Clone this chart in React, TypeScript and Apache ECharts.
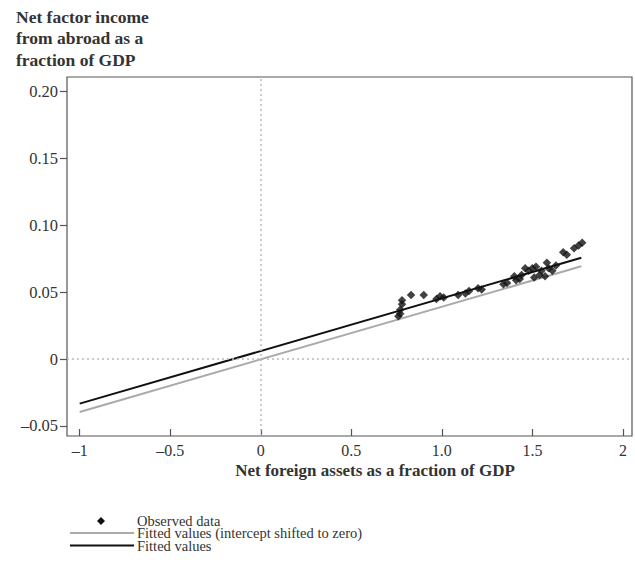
import React, { useEffect, useRef } from "react";
import * as echarts from "echarts";

const observedX = [0.76, 0.77, 0.77, 0.78, 0.78, 0.83, 0.90, 0.97, 0.99, 1.01, 1.09, 1.13, 1.15, 1.20, 1.22, 1.34, 1.36, 1.40, 1.41, 1.43, 1.44, 1.46, 1.48, 1.50, 1.51, 1.52, 1.54, 1.55, 1.57, 1.58, 1.59, 1.61, 1.63, 1.67, 1.69, 1.73, 1.755, 1.775];
const observedY = [0.032, 0.034, 0.037, 0.041, 0.044, 0.048, 0.048, 0.045, 0.047, 0.046, 0.048, 0.049, 0.051, 0.053, 0.052, 0.056, 0.057, 0.062, 0.059, 0.060, 0.063, 0.068, 0.066, 0.068, 0.061, 0.069, 0.063, 0.066, 0.062, 0.072, 0.068, 0.066, 0.070, 0.080, 0.078, 0.083, 0.085, 0.087];

const fitX = [-1, 1.77];
const fitY = [-0.0333, 0.0758];
const shiftedY = [-0.0395, 0.0694];

const xTicks = [-1, -0.5, 0, 0.5, 1, 1.5, 2];
const yTicks = [-0.05, 0, 0.05, 0.1, 0.15, 0.2];

const FONT = "'Liberation Serif', 'DejaVu Serif', serif";

export default function App() {
  const ref = useRef<HTMLDivElement>(null);
  useEffect(() => {
    if (!ref.current) return;
    const chart = echarts.init(ref.current, null, { renderer: "svg" });
    const xLabel = (v: number) => {
      if (v === 1) return "1.0";
      return String(v).replace("-", "\u2013");
    };
    const yLabel = (v: number) => {
      if (Math.abs(v) < 1e-9) return "0";
      return v.toFixed(2).replace("-", "\u2013");
    };
    const option: any = {
      animation: false,
      backgroundColor: "#fff",
      textStyle: { fontFamily: FONT },
      grid: { left: 67, top: 77, right: 3, bottom: 130, show: true, borderColor: "#555", borderWidth: 1.2 },
      xAxis: {
        type: "value",
        min: -1.07,
        max: 2.05,
        splitLine: { show: false },
        axisLine: { show: false, onZero: false },
        axisTick: {
          show: true, inside: true, length: 7, lineStyle: { color: "#555", width: 1.2 },
          customValues: xTicks,
        },
        axisLabel: {
          customValues: xTicks, formatter: xLabel, color: "#333", fontSize: 16, fontFamily: FONT, margin: 6,
        },
      },
      yAxis: {
        type: "value",
        min: -0.0575,
        max: 0.211,
        splitLine: { show: false },
        axisLine: { show: false, onZero: false },
        axisTick: {
          show: true, inside: false, length: 7, lineStyle: { color: "#555", width: 1.2 },
          customValues: yTicks,
        },
        axisLabel: {
          customValues: yTicks, formatter: yLabel, color: "#333", fontSize: 16.5, fontFamily: FONT, margin: 9,
        },
      },
      series: [
        {
          type: "line",
          data: fitX.map((x, i) => [x, shiftedY[i]]),
          symbol: "none",
          lineStyle: { color: "#aaaaaa", width: 2 },
          silent: true,
          z: 2,
          markLine: {
            silent: true,
            symbol: "none",
            label: { show: false },
            lineStyle: { color: "#bbbbbb", type: [2, 3], width: 1.5 },
            data: [{ xAxis: 0 }, { yAxis: 0 }],
          },
        },
        {
          type: "line",
          data: fitX.map((x, i) => [x, fitY[i]]),
          symbol: "none",
          lineStyle: { color: "#111111", width: 2 },
          silent: true,
          z: 3,
        },
        {
          type: "scatter",
          data: observedX.map((x, i) => [x, observedY[i]]),
          symbol: "diamond",
          symbolSize: 8.5,
          itemStyle: { color: "#111111" },
          z: 4,
        },
      ],
      graphic: [
        {
          type: "text", left: 16, top: 6,
          style: {
            text: "Net factor income\nfrom abroad as a\nfraction of GDP",
            font: `bold 17.5px ${FONT}`, fill: "#333", lineHeight: 21.5,
          },
        },
        {
          type: "text", x: 375, y: 470,
          style: { text: "Net foreign assets as a fraction of GDP", font: `bold 17px ${FONT}`, fill: "#333", align: "center", verticalAlign: "middle" },
        },
        {
          type: "group", x: 70, y: 513,
          children: [
            { type: "polygon", shape: { points: [[31, 4], [35, 8], [31, 12], [27, 8]] }, style: { fill: "#111111" } },
            { type: "line", shape: { x1: 0, y1: 20, x2: 64, y2: 20 }, style: { stroke: "#aaaaaa", lineWidth: 2 } },
            { type: "line", shape: { x1: 0, y1: 32.5, x2: 64, y2: 32.5 }, style: { stroke: "#111111", lineWidth: 2 } },
            { type: "text", x: 67, y: 7.5, style: { text: "Observed data", font: `14.5px ${FONT}`, fill: "#333", verticalAlign: "middle", lineHeight: 11 } },
            { type: "text", x: 67, y: 20, style: { text: "Fitted values (intercept shifted to zero)", font: `14.5px ${FONT}`, fill: "#333", verticalAlign: "middle", lineHeight: 11 } },
            { type: "text", x: 67, y: 32.5, style: { text: "Fitted values", font: `14.5px ${FONT}`, fill: "#333", verticalAlign: "middle", lineHeight: 11 } },
          ],
        },
      ],
    };
    chart.setOption(option);
    return () => chart.dispose();
  }, []);
  return <div ref={ref} style={{ position: "absolute", left: 0, top: 0, width: 635, height: 566 }} />;
}
